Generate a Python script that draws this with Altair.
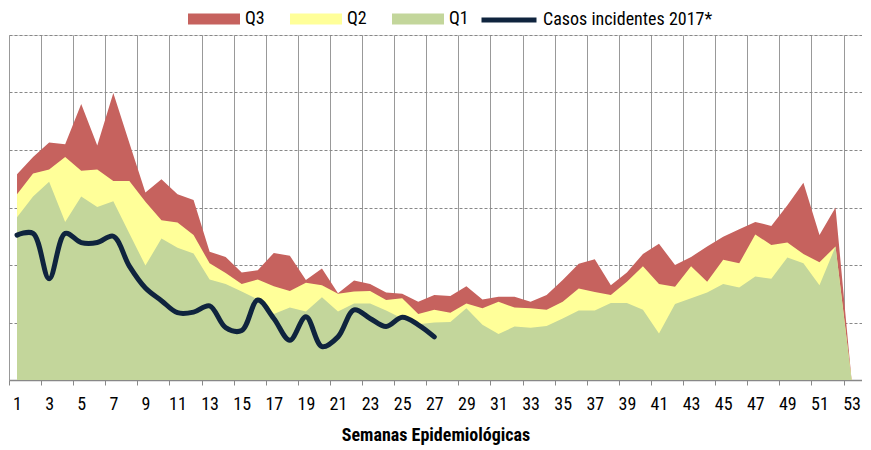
import altair as alt
import pandas as pd

weeks = list(range(1, 54))

q3 = [35.8, 38.8, 41.3, 41.0, 48.0, 40.8, 49.9, 41.2, 32.6, 34.9,
      32.3, 31.3, 22.3, 21.4, 18.7, 19.1, 22.1, 21.6, 17.4, 19.4,
      15.1, 17.3, 16.7, 15.2, 15.0, 13.6, 14.8, 14.6, 16.3, 14.0,
      14.5, 14.5, 13.6, 14.8, 17.4, 20.2, 21.0, 16.5, 18.7, 21.9,
      23.7, 20.0, 21.4, 23.2, 24.9, 26.2, 27.5, 26.8, 30.4, 34.3,
      25.2, 30.0, 0.0]

q2 = [32.3, 35.9, 36.6, 38.8, 36.4, 36.6, 34.6, 34.6, 31.0, 27.8,
      27.4, 25.2, 20.3, 18.6, 16.7, 17.5, 16.3, 15.5, 16.9, 16.5,
      15.0, 15.4, 15.5, 13.9, 14.2, 11.5, 12.2, 11.7, 13.3, 12.5,
      13.6, 12.6, 12.5, 12.2, 13.6, 15.9, 15.3, 14.8, 17.1, 19.8,
      16.7, 16.2, 19.8, 17.1, 20.9, 20.3, 25.3, 23.5, 23.9, 21.9,
      20.5, 23.2, 0.0]

q1 = [28.3, 31.9, 34.5, 27.5, 31.9, 30.1, 31.1, 25.5, 19.9, 24.6,
      23.0, 22.0, 17.5, 16.7, 15.4, 14.0, 11.5, 12.6, 11.9, 14.4,
      11.9, 13.3, 13.3, 12.1, 10.7, 9.7, 10.0, 10.1, 12.5, 9.6,
      8.0, 9.3, 9.1, 9.4, 10.7, 12.1, 12.1, 13.4, 13.4, 12.2,
      8.1, 13.2, 14.2, 15.2, 16.7, 16.1, 18.0, 17.6, 21.3, 20.3,
      16.5, 23.2, 0.0]

casos_2017 = [25.2, 25.5, 17.6, 25.5, 23.9, 23.9, 25.0, 19.8, 16.0, 13.8,
              11.7, 11.8, 12.9, 9.1, 8.6, 13.9, 10.7, 6.9, 11.0, 5.8,
              7.5, 12.2, 10.7, 9.3, 10.9, 9.6, 7.5]

series_names = ["Q3", "Q2", "Q1"]
series_colors = ["#C6625E", "#FFFF99", "#C3D69B"]
line_name = "Casos incidentes 2017*"
line_color = "#0F243E"

FONT = "Roboto Condensed"

rows = []
for name, vals in zip(series_names, [q3, q2, q1]):
    for w, v in zip(weeks, vals):
        rows.append({"semana": w, "valor": v, "serie": name})
df_area = pd.DataFrame(rows)
df_line = pd.DataFrame({"semana": weeks[:len(casos_2017)], "valor": casos_2017,
                        "serie": line_name})

odd_weeks = [w for w in weeks if w % 2 == 1]
tick_vals = sorted([w - 0.5 for w in odd_weeks] + odd_weeks)

x_scale = alt.Scale(domain=[0.5, 53.65], nice=False, zero=False)
y_scale = alt.Scale(domain=[0, 60], nice=False)

x_axis = alt.Axis(
    values=tick_vals,
    title="Semanas Epidemiológicas",
    titleFont=FONT, titleFontSize=18, titleFontWeight="bold", titleColor="#000000",
    titlePadding=13,
    labelFont=FONT, labelFontSize=18, labelColor="#000000",
    labelExpr="datum.value % 1 === 0 ? datum.label : ''",
    labelOverlap=False, labelFlush=False, labelPadding=10,
    grid=True, gridColor="#999999", gridWidth=1,
    gridOpacity={"condition": {"test": "datum.value % 1 !== 0", "value": 1}, "value": 0},
    ticks=True, tickColor="#888888", tickSize=5, tickWidth=1,
    tickOpacity={"condition": {"test": "datum.value % 1 !== 0", "value": 1}, "value": 0},
    domain=True, domainColor="#888888", domainWidth=1.5,
)
y_axis = alt.Axis(
    values=[10, 20, 30, 40, 50, 60], title=None, labels=False, ticks=False,
    domain=False, grid=True, gridColor="#888888", gridDash=[3, 2], gridWidth=1,
)

rect_path = "M-1,-0.21L1,-0.21L1,0.21L-1,0.21Z"

color_enc = alt.Color(
    "serie:N",
    scale=alt.Scale(domain=series_names, range=series_colors),
    legend=alt.Legend(
        title=None, orient="none", legendX=179, legendY=-42,
        direction="horizontal", symbolType=rect_path, symbolSize=2704,
        symbolOpacity=1, symbolStrokeWidth=0,
        labelFont=FONT, labelFontSize=18, labelColor="#000000",
        labelOffset=5, columnPadding=25, padding=0, labelLimit=0,
    ),
)

layers = []
for name in series_names:
    layers.append(
        alt.Chart(df_area).transform_filter(alt.datum.serie == name)
        .mark_area(opacity=1, interpolate="linear").encode(
            x=alt.X("semana:Q", scale=x_scale, axis=x_axis),
            y=alt.Y("valor:Q", scale=y_scale, axis=y_axis, stack=None),
            color=color_enc,
        )
    )

line = alt.Chart(df_line).mark_line(
    strokeWidth=5, interpolate="catmull-rom", strokeCap="round", strokeJoin="round"
).encode(
    x=alt.X("semana:Q", scale=x_scale, axis=x_axis),
    y=alt.Y("valor:Q", scale=y_scale, axis=y_axis),
    stroke=alt.Stroke(
        "serie:N",
        scale=alt.Scale(domain=[line_name], range=[line_color]),
        legend=alt.Legend(
            title=None, orient="none", legendX=470, legendY=-45,
            symbolType="stroke", symbolSize=3025, symbolStrokeWidth=5,
            labelFont=FONT, labelFontSize=18, labelColor="#000000",
            labelOffset=4, padding=0, labelLimit=0,
        ),
    ),
)

chart = alt.layer(*layers, line).properties(
    width=853, height=345,
    autosize=alt.AutoSizeParams(type="none"),
    padding={"left": 1, "top": 27, "right": 0, "bottom": 70},
).configure_view(stroke=None).configure(background="#ffffff")

chart.save("out.html", embed_options={"renderer": "svg", "actions": False})
